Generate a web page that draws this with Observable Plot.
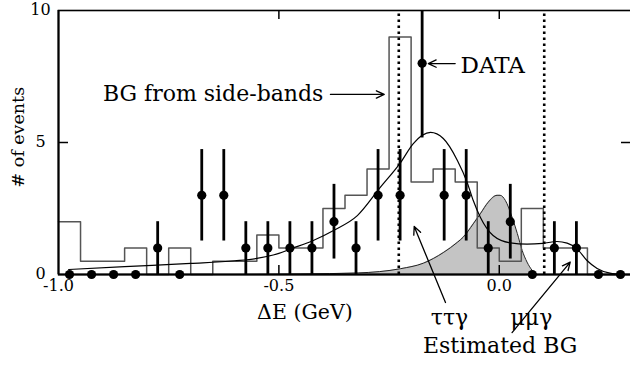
<!DOCTYPE html>
<html><head><meta charset="utf-8">
<script src="https://cdn.jsdelivr.net/npm/d3@7"></script>
<script src="https://cdn.jsdelivr.net/npm/@observablehq/plot@0.6"></script>
<style>body{margin:0;background:#fff} svg{display:block}</style>
</head><body><div id="chart"></div>
<script>
// ---- data ----
const binCenters = [-0.975,-0.925,-0.875,-0.825,-0.775,-0.725,-0.675,-0.625,-0.575,-0.525,-0.475,-0.425,-0.375,-0.325,-0.275,-0.225,-0.175,-0.125,-0.075,-0.025,0.025,0.075,0.125,0.175,0.225,0.275];
const binHalfWidth = 0.025;
const dataCounts = [0,0,0,0,1,0,3,3,1,1,1,1,2,1,3,3,8,3,3,1,2,0,1,1,0,0];
const sidebandBG = [2,0.5,0.5,1,0,1,0,0.5,0.5,1.5,1,1,2.5,3,4,9,3.5,4,3.5,1,0.5,2.5,1,1,0,0];

const fitX = [-0.977,-0.85,-0.7,-0.6,-0.55,-0.5,-0.473,-0.422,-0.376,-0.322,-0.27,-0.224,-0.195,-0.156,-0.127,-0.095,-0.072,-0.059,-0.043,-0.014,0.025,0.063,0.099,0.131,0.154,0.176,0.199,0.222,0.251,0.28];
const fitY = [0.19,0.3,0.42,0.52,0.61,0.8,0.97,1.29,1.67,2.23,3.3,4.24,4.96,5.38,5.15,4.32,3.45,2.8,2.17,1.48,1.2,1.15,1.18,1.25,1.19,0.98,0.53,0.23,0.05,0];

const ttgX = [-0.6,-0.45,-0.32,-0.224,-0.172,-0.127,-0.095,-0.082,-0.059,-0.043,-0.025,-0.005,0.002,0.014,0.029,0.041,0.052,0.063,0.075,0.086];
const ttgY = [0,0.02,0.06,0.22,0.43,0.83,1.22,1.41,1.92,2.3,2.74,3.0,3.0,2.8,2.17,1.55,0.91,0.47,0.15,0];

const signalEdges = [-0.228, 0.102];
const xTicks = [-1.0, -0.5, 0.0];
const yTicks = [0, 5, 10];

const annotations = [
  {text: "BG from side-bands", x: -0.399, y: 6.59, anchor: "end", size: 22},
  {text: "DATA", x: -0.088, y: 7.65, anchor: "start", size: 23},
  {text: "ττγ", x: -0.113, y: -1.93, anchor: "middle", size: 22},
  {text: "μμγ", x: 0.073, y: -1.93, anchor: "middle", size: 22},
  {text: "Estimated BG", x: 0.002, y: -2.99, anchor: "middle", size: 22},
  {text: "ΔE (GeV)", x: -0.441, y: -1.70, anchor: "middle", size: 20.5}
];
const yTitle = {text: "# of events", x: -1.091, y: 5.2};
const arrows = [
  {x1: -0.383, y1: 6.82, x2: -0.261, y2: 6.82},
  {x1: -0.100, y1: 7.99, x2: -0.161, y2: 7.99},
  {x1: -0.122, y1: -1.06, x2: -0.193, y2: 1.82},
  {x1: 0.029, y1: -2.2, x2: 0.161, y2: 0.47}
];

// ---- derived tables ----
const points = binCenters.map((x, i) => ({x, n: dataCounts[i]}));
const stepPts = binCenters.flatMap((c, i) => [
  {x: c - binHalfWidth, y: sidebandBG[i]},
  {x: c + binHalfWidth, y: sidebandBG[i]}
]);
const fit = fitX.map((x, i) => ({x, y: fitY[i]}));
const ttg = ttgX.map((x, i) => ({x, y: ttgY[i]}));

const font = "DejaVu Serif";

const chart = Plot.plot({
  width: 630, height: 365,
  marginLeft: 58, marginRight: -1, marginTop: 10, marginBottom: 91,
  style: {fontFamily: font, fontSize: "16px", background: "white", color: "black", overflow: "visible"},
  x: {domain: [-1, 0.3], range: [58, 631], axis: null},
  y: {domain: [0, 10], range: [274, 10], axis: null},
  marks: [
    Plot.areaY(ttg, {x: "x", y: "y", fill: "#c4c4c4", curve: "monotone-x"}),
    Plot.line(ttg, {x: "x", y: "y", stroke: "#222", strokeWidth: 1, curve: "monotone-x"}),
    Plot.line(stepPts, {x: "x", y: "y", stroke: "#555", strokeWidth: 1.5}),
    Plot.line(fit, {x: "x", y: "y", stroke: "black", strokeWidth: 1.2, curve: "monotone-x"}),
    Plot.ruleX(signalEdges, {x: d => d, y1: 0, y2: 10, stroke: "black", strokeWidth: 2.6, strokeDasharray: "2.6,3.4"}),
    Plot.ruleX(points.filter(d => d.n > 0), {x: "x", y1: d => d.n - Math.sqrt(d.n), y2: d => d.n + Math.sqrt(d.n), stroke: "black", strokeWidth: 2.8, clip: true}),
    Plot.dot(points, {x: "x", y: "n", r: 4.6, fill: "black", stroke: "none"}),
    Plot.frame({stroke: "black", strokeWidth: 1.6}),
    Plot.ruleY([0], {stroke: "black", strokeWidth: 2}),
    Plot.ruleX([-1], {y1: 0, y2: 10, stroke: "black", strokeWidth: 2}),
    Plot.tickX(xTicks.slice(1), {x: d => d, insetTop: 255, stroke: "black", strokeWidth: 1.5}),
    Plot.tickX(xTicks.slice(1), {x: d => d, insetBottom: 255, stroke: "black", strokeWidth: 1.5}),
    Plot.tickY(yTicks.slice(1, 2), {y: d => d, insetRight: 563, stroke: "black", strokeWidth: 1.5}),
    Plot.tickY(yTicks.slice(1, 2), {y: d => d, insetLeft: 563, stroke: "black", strokeWidth: 1.5}),
    Plot.text(xTicks, {x: d => d, frameAnchor: "bottom", text: d => d.toFixed(1), lineAnchor: "top", dy: 5, fontSize: 16, fontFamily: font}),
    Plot.text(yTicks, {y: d => d, frameAnchor: "left", text: d => String(d), textAnchor: "middle", lineAnchor: "middle", dx: -18, dy: -1, fontSize: 16, fontFamily: font}),
    Plot.arrow(arrows, {x1: "x1", y1: "y1", x2: "x2", y2: "y2", stroke: "black", strokeWidth: 1.3, headLength: 10, headAngle: 50}),
    ...annotations.map(a => Plot.text([a], {x: "x", y: "y", text: "text", textAnchor: a.anchor, lineAnchor: "bottom", fontSize: a.size, fontFamily: font})),
    Plot.text([yTitle], {x: "x", y: "y", text: "text", rotate: -90, textAnchor: "middle", lineAnchor: "middle", fontSize: 17.5, fontFamily: font})
  ]
});
document.getElementById("chart").append(chart);
</script>
</body></html>
